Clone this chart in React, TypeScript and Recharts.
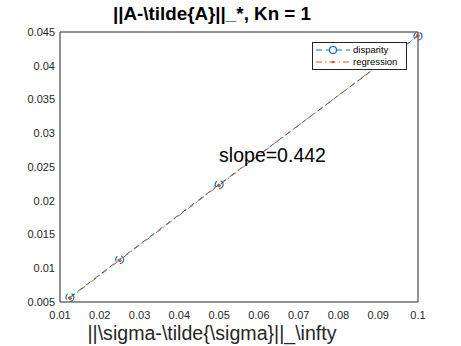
import React from "react"
import { ComposedChart, Line, XAxis, YAxis, ReferenceDot, Label } from "recharts"

const sigmaErr = [0.0125, 0.025, 0.05, 0.1]
const disparity = [0.0057, 0.0113, 0.0224, 0.0444]
const regression = [0.0056, 0.0112, 0.0223, 0.0445]
const xTicks = [0.01, 0.02, 0.03, 0.04, 0.05, 0.06, 0.07, 0.08, 0.09, 0.1]
const yTicks = [0.005, 0.01, 0.015, 0.02, 0.025, 0.03, 0.035, 0.04, 0.045]
const slopeLabel = "slope=0.442"

const data = sigmaErr.map((x, i) => ({ x, disparity: disparity[i], regression: regression[i] }))

const font = "'Liberation Sans', Arial, Helvetica, sans-serif"
const axisColor = "#262626"
const blue = "#0072BD"
const orange = "#D95319"

export default function App() {
  return (
    <div style={{ position: "absolute", left: 0, top: 0, width: 461, height: 346, background: "#fff", fontFamily: font }}>
      <ComposedChart width={461} height={346} data={data} margin={{ top: 32, right: 43, left: 0, bottom: 0 }}>
        <XAxis
          xAxisId="b"
          dataKey="x"
          type="number"
          domain={[0.01, 0.1]}
          ticks={xTicks}
          height={44}
          tickSize={0}
          tickMargin={9}
          tickLine={false}
          stroke={axisColor}
          tick={{ fill: axisColor, fontSize: 11, fontFamily: font }}
        >
          <Label
            content={() => (
              <text x={212} y={340} textAnchor="middle" fontSize={19.6} fontFamily={font} fill={axisColor}>
                {"||\\sigma-\\tilde{\\sigma}||_\\infty"}
              </text>
            )}
          />
        </XAxis>
        <XAxis xAxisId="bm" dataKey="x" type="number" domain={[0.01, 0.1]} ticks={xTicks} mirror tick={false} tickSize={4} stroke={axisColor} axisLine={false} />
        <XAxis xAxisId="t" orientation="top" dataKey="x" type="number" domain={[0.01, 0.1]} ticks={xTicks} mirror tick={false} tickSize={4} stroke={axisColor}>
          <Label
            content={() => (
              <text x={212} y={20} textAnchor="middle" fontSize={18.8} fontWeight="bold" fontFamily={font} fill="#000">
                {"||A-\\tilde{A}||_*, Kn = 1"}
              </text>
            )}
          />
        </XAxis>
        <YAxis
          yAxisId="l"
          type="number"
          domain={[0.005, 0.045]}
          ticks={yTicks}
          width={60}
          tickSize={0}
          tickMargin={5}
          tickLine={false}
          stroke={axisColor}
          tick={{ fill: axisColor, fontSize: 11, fontFamily: font }}
        />
        <YAxis yAxisId="lm" type="number" domain={[0.005, 0.045]} ticks={yTicks} mirror tick={false} tickSize={4} stroke={axisColor} axisLine={false} />
        <YAxis yAxisId="r" orientation="right" type="number" domain={[0.005, 0.045]} ticks={yTicks} mirror tick={false} tickSize={4} stroke={axisColor} />
        <Line
          xAxisId="b"
          yAxisId="l"
          dataKey="disparity"
          stroke={blue}
          strokeWidth={1}
          strokeDasharray="6 4"
          dot={{ r: 4, fill: "none", stroke: blue, strokeWidth: 1.2 }}
          isAnimationActive={false}
        />
        <Line
          xAxisId="b"
          yAxisId="l"
          dataKey="regression"
          stroke={orange}
          strokeWidth={1}
          strokeDasharray="6 3 1.5 3"
          dot={{ r: 1.5, fill: orange, stroke: orange }}
          isAnimationActive={false}
        />
        <ReferenceDot
          xAxisId="b"
          yAxisId="l"
          x={0.05}
          y={0.02574}
          r={0}
          stroke="none"
          label={(props: any) => (
            <text x={props.viewBox.x} y={props.viewBox.y} fontSize={19.5} fontFamily={font} fill="#000">
              {slopeLabel}
            </text>
          )}
        />
      </ComposedChart>
      <div
        style={{
          position: "absolute",
          left: 312,
          top: 42,
          width: 95,
          height: 28,
          border: `1px solid ${axisColor}`,
          background: "#fff",
          fontSize: 9.5,
          color: "#000",
          boxSizing: "border-box",
        }}
      >
        {[
          { name: "disparity", color: blue, dash: "6 4", marker: "circle" },
          { name: "regression", color: orange, dash: "6 3 1.5 3", marker: "dot" },
        ].map((s, i) => (
          <div key={s.name} style={{ position: "absolute", left: 1, top: 1 + i * 12, height: 12, display: "flex", alignItems: "center" }}>
            <svg width={38} height={12}>
              <line x1={2} y1={6} x2={36} y2={6} stroke={s.color} strokeDasharray={s.dash} />
              {s.marker === "circle" ? (
                <circle cx={19} cy={6} r={3.5} fill="#fff" stroke={s.color} strokeWidth={1.2} />
              ) : (
                <circle cx={19} cy={6} r={1.3} fill={s.color} />
              )}
            </svg>
            <span style={{ marginLeft: 1, lineHeight: "12px" }}>{s.name}</span>
          </div>
        ))}
      </div>
    </div>
  )
}
